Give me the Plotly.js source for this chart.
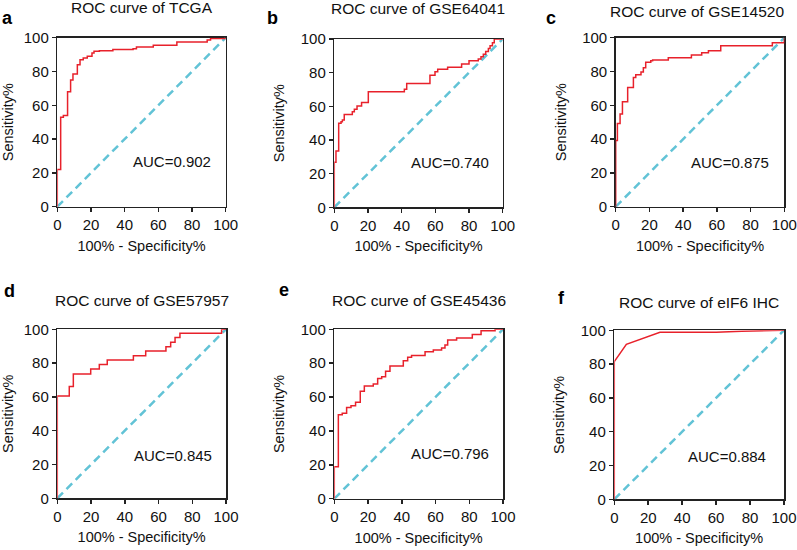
<!DOCTYPE html>
<html>
<head>
<meta charset="utf-8">
<script src="https://cdn.plot.ly/plotly-3.0.1.min.js"></script>
<style>
  html, body { margin: 0; padding: 0; background: #fff; }
  #chart { width: 797px; height: 550px; }
</style>
</head>
<body>
<div id="chart"></div>
<script>
// panel text
const panelLetters = ['a', 'b', 'c', 'd', 'e', 'f'];
const panelTitles = [
    'ROC curve of TCGA', 'ROC curve of GSE64041', 'ROC curve of GSE14520',
    'ROC curve of GSE57957', 'ROC curve of GSE45436', 'ROC curve of eIF6 IHC'
];
const aucLabels = ['AUC=0.902', 'AUC=0.740', 'AUC=0.875', 'AUC=0.845', 'AUC=0.796', 'AUC=0.884'];
const tickVals = [0, 20, 40, 60, 80, 100];

// ROC points: 100% - specificity% (x) and sensitivity% (y)
const tcgaX = [0, 0, 2.0, 3.6, 6.1, 7.9, 9.3, 11.9, 13.5, 15.4, 17.8, 20.6, 21.8, 25, 33, 45, 47, 57, 71, 89, 91, 100];
const tcgaY = [0, 22, 53, 54, 68, 75, 78.5, 84, 87, 88, 89, 91, 92, 92.3, 93, 93.5, 94.5, 95.5, 97.4, 98.6, 99.6, 100];

const gse64041X = [0, 0, 1.0, 2.6, 4.0, 4.8, 5.9, 10.7, 11.9, 13.5, 16.2, 20.2, 41.6, 43, 56.8, 59.8, 61.4, 67.3, 75.6, 80, 85.5, 87.1, 88.5, 89.9, 91.5, 92.5, 93.9, 95, 100];
const gse64041Y = [0, 26.7, 33.5, 49.9, 50.9, 51.9, 55.2, 56.8, 58.2, 60.2, 62.2, 68.6, 70.1, 73.5, 78.4, 80.6, 82, 83.2, 85.1, 87.1, 88.1, 89.5, 90.9, 92.5, 94.3, 96, 97.8, 100, 100];

const gse14520X = [0, 0, 1.0, 2.6, 4.0, 7.1, 10.5, 11.9, 15.0, 16.4, 17.8, 20.8, 21.9, 31.2, 44.9, 51, 55, 62.3, 92.9, 100];
const gse14520Y = [0, 39.1, 49.3, 54.8, 62.1, 70.6, 76.5, 78.1, 79.7, 82.2, 85.4, 86.4, 86.8, 88.2, 89.7, 91.1, 92.3, 95.3, 97, 100];

const gse57957X = [0, 0, 7.1, 9.5, 19.8, 24.9, 29.6, 45.1, 52.4, 64.4, 67.2, 69.8, 72.7, 97.4, 100];
const gse57957Y = [0, 60.6, 66.1, 73.6, 76.5, 79.1, 81.9, 84.4, 87.2, 89.7, 92.3, 95.1, 97.6, 100, 100];

const gse45436X = [0, 0, 2.4, 4.7, 7.3, 9.9, 12.6, 15.4, 17.8, 23.1, 25.7, 28.1, 30.4, 33, 40.9, 43.5, 45.8, 53.8, 58.7, 63.6, 65.6, 67.2, 72.5, 81.8, 87, 95.3, 100];
const gse45436Y = [0, 18.9, 49.6, 50.4, 53.9, 54.9, 56.9, 63.4, 66.5, 67.7, 70.9, 72, 75.2, 78.3, 81.5, 83.5, 84.6, 86.8, 87.8, 89, 90.7, 93.7, 94.9, 97, 99.2, 100, 100];

const eif6X = [0, 0, 7.1, 26.9, 60, 75, 100];
const eif6Y = [0, 81.5, 91.7, 98.8, 98.8, 99.5, 100];

const curvesX = [tcgaX, gse64041X, gse14520X, gse57957X, gse45436X, eif6X];
const curvesY = [tcgaY, gse64041Y, gse14520Y, gse57957Y, gse45436Y, eif6Y];
const aucPosX = [68.3, 68.7, 67.8, 68.8, 68.6, 66.2];
const aucPosY = [26.6, 26.6, 25.9, 25.6, 26.4, 25.2];

// plot boxes in pixels [left, right, top, bottom]
const W = 797, H = 550;
const boxes = [
    [57.3, 225.7, 37.7, 206.7],
    [334.3, 502.7, 39, 207.3],
    [615.7, 784.3, 37.7, 206.7],
    [57.3, 226, 329.3, 498.3],
    [334.3, 503, 329.3, 498.7],
    [614.3, 784, 330.3, 499.3]
];
const titlePos = [[141.7, 8], [417.5, 9], [697, 11], [141.5, 300], [418.5, 300], [699, 302]];
const letterPos = [[8, 18], [272, 18], [551, 18], [9.5, 291], [283.5, 290], [561.5, 298]];

const FONT = 'Arial, "Liberation Sans", sans-serif';
const traces = [];
const layout = {
    width: W,
    height: H,
    margin: { l: 0, r: 0, t: 0, b: 0 },
    paper_bgcolor: '#fff',
    plot_bgcolor: '#fff',
    showlegend: false,
    font: { family: FONT, color: '#111' },
    annotations: []
};

boxes.forEach((b, i) => {
    const n = i === 0 ? '' : String(i + 1);
    const xa = 'x' + n, ya = 'y' + n;

    // chance diagonal
    traces.push({
        type: 'scatter',
        mode: 'lines',
        x: [0, 100],
        y: [0, 100],
        xaxis: xa,
        yaxis: ya,
        line: { color: '#62c3d6', width: 2.5, dash: '8px,5px' },
        hoverinfo: 'skip'
    });

    traces.push({
        type: 'scatter',
        mode: 'lines',
        x: curvesX[i],
        y: curvesY[i],
        xaxis: xa,
        yaxis: ya,
        line: { color: '#e8212b', width: 1.5, shape: i === 5 ? 'linear' : 'hv' },
        hoverinfo: 'x+y'
    });

    const axisCommon = {
        range: [0, 100],
        tickvals: tickVals,
        ticks: 'outside',
        ticklen: 4,
        tickwidth: 1.5,
        tickcolor: '#222',
        showline: true,
        linecolor: '#222',
        linewidth: 1.5,
        mirror: true,
        showgrid: false,
        zeroline: false,
        layer: 'below traces',
        tickfont: { family: FONT, size: 15, color: '#111' }
    };

    layout['xaxis' + n] = Object.assign({}, axisCommon, {
        domain: [b[0] / W, b[1] / W],
        anchor: ya,
        title: { text: '100% - Specificity%', font: { family: FONT, size: 14.5, color: '#111' }, standoff: 8 }
    });
    layout['yaxis' + n] = Object.assign({}, axisCommon, {
        domain: [1 - b[3] / H, 1 - b[2] / H],
        anchor: xa,
        title: { text: 'Sensitivity%', font: { family: FONT, size: 14.5, color: '#111' }, standoff: 12 }
    });

    layout.annotations.push({
        xref: xa, yref: ya,
        x: aucPosX[i], y: aucPosY[i],
        text: aucLabels[i],
        showarrow: false,
        font: { family: FONT, size: 15, color: '#111' }
    });
    layout.annotations.push({
        xref: 'paper', yref: 'paper',
        x: titlePos[i][0] / W, y: 1 - titlePos[i][1] / H,
        xanchor: 'center', yanchor: 'middle',
        text: panelTitles[i],
        showarrow: false,
        font: { family: FONT, size: 15.5, color: '#111' }
    });
    layout.annotations.push({
        xref: 'paper', yref: 'paper',
        x: letterPos[i][0] / W, y: 1 - letterPos[i][1] / H,
        xanchor: 'center', yanchor: 'middle',
        text: '<b>' + panelLetters[i] + '</b>',
        showarrow: false,
        font: { family: FONT, size: 18, color: '#000' }
    });
});

Plotly.newPlot('chart', traces, layout, { staticPlot: true });
</script>
</body>
</html>
